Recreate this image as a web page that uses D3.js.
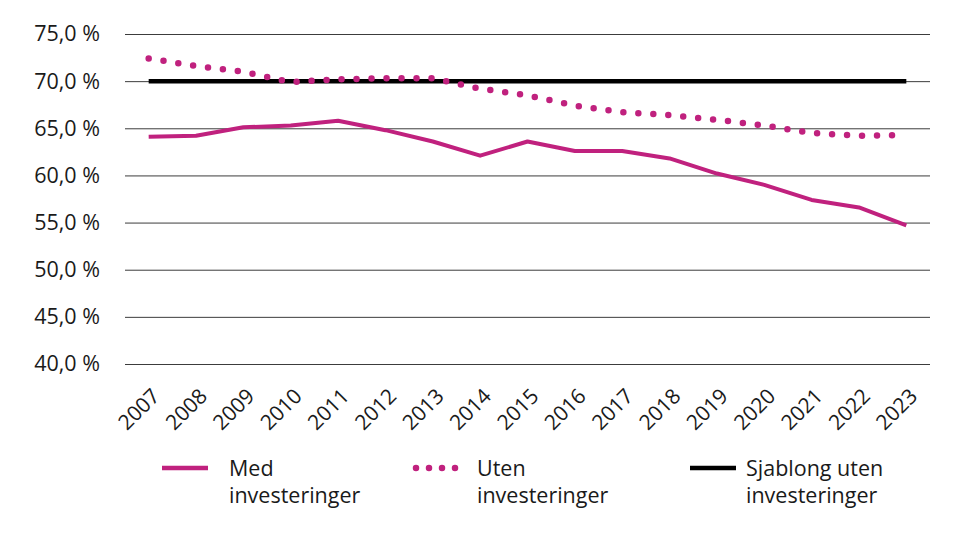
<!DOCTYPE html>
<html>
<head>
<meta charset="utf-8">
<style>
  body { margin: 0; background: #fff; }
  svg text { font-family: "Open Sans", sans-serif; fill: #1a1a1a; }
</style>
</head>
<body>
<svg width="967" height="533"></svg>
<script src="https://cdn.jsdelivr.net/npm/d3@7"></script>
<script>
  var years = ["2007","2008","2009","2010","2011","2012","2013","2014","2015","2016","2017","2018","2019","2020","2021","2022","2023"];
  var medInv = [64.1, 64.2, 65.1, 65.3, 65.8, 64.8, 63.6, 62.1, 63.6, 62.6, 62.6, 61.8, 60.2, 59.0, 57.4, 56.6, 54.7];
  var utenInv = [72.4, 71.6, 71.0, 69.9, 70.2, 70.3, 70.3, 69.2, 68.5, 67.4, 66.7, 66.4, 65.9, 65.3, 64.5, 64.2, 64.3];
  var sjablong = [70, 70, 70, 70, 70, 70, 70, 70, 70, 70, 70, 70, 70, 70, 70, 70, 70];
  var yTicks = [40, 45, 50, 55, 60, 65, 70, 75];
  var seriesNames = ["Med\ninvesteringer", "Uten\ninvesteringer", "Sjablong uten\ninvesteringer"];

  var magenta = "#c0217e";
  var svg = d3.select("svg");

  var x = d3.scaleBand().domain(years).range([125, 930]);
  var y = d3.scaleLinear().domain([40, 75]).range([364, 34]);
  var cx = function(d, i) { return x(years[i]) + x.bandwidth() / 2; };

  // gridlines + y labels
  var yAxis = d3.axisLeft(y).tickValues(yTicks).tickSize(-805)
      .tickFormat(function(d) { return d3.format(".1f")(d).replace(".", ",") + " %"; });
  var gy = svg.append("g").attr("transform", "translate(125,0)").call(yAxis);
  gy.select(".domain").remove();
  gy.selectAll(".tick line").attr("stroke", "#3c3c3c").attr("stroke-width", 1);
  gy.selectAll(".tick text").attr("x", -25).attr("font-size", 21.5)
      .attr("font-family", "Open Sans, sans-serif").attr("fill", "#1a1a1a");

  // x labels
  var xAxis = d3.axisBottom(x).tickSize(0);
  var gx = svg.append("g").attr("transform", "translate(0,372)").call(xAxis);
  gx.select(".domain").remove();
  gx.selectAll(".tick text")
      .attr("font-size", 21).attr("font-family", "Open Sans, sans-serif").attr("fill", "#1a1a1a")
      .attr("text-anchor", "end").attr("dy", "0.7em").attr("y", 0)
      .attr("transform", "translate(2,15) rotate(-45)");

  var line = d3.line().x(cx).y(function(d) { return y(d); });

  svg.append("path").datum(sjablong).attr("d", line)
      .attr("fill", "none").attr("stroke", "#000").attr("stroke-width", 4.5);

  svg.append("path").datum(utenInv).attr("d", line)
      .attr("fill", "none").attr("stroke", magenta).attr("stroke-width", 6.5)
      .attr("stroke-linecap", "round").attr("stroke-dasharray", "0,15");

  svg.append("path").datum(medInv).attr("d", line)
      .attr("fill", "none").attr("stroke", magenta).attr("stroke-width", 4)
      .attr("stroke-linejoin", "round");

  // legend
  var legX = [162, 413, 690];
  var leg = svg.append("g").selectAll("g").data(seriesNames).enter().append("g")
      .attr("transform", function(d, i) { return "translate(" + legX[i] + ",468)"; });
  leg.append("line").attr("x1", function(d, i) { return i == 1 ? 3 : 0; }).attr("x2", 46)
      .attr("y1", 0).attr("y2", 0)
      .attr("stroke", function(d, i) { return i == 2 ? "#000" : magenta; })
      .attr("stroke-width", function(d, i) { return i == 1 ? 6.5 : 4.5; })
      .attr("stroke-linecap", function(d, i) { return i == 1 ? "round" : "butt"; })
      .attr("stroke-dasharray", function(d, i) { return i == 1 ? "0,13" : null; });
  leg.each(function(d, i) {
    var tx = i == 2 ? 56 : (i == 1 ? 64 : 67);
    var g = d3.select(this);
    d.split("\n").forEach(function(s, k) {
      g.append("text").attr("x", tx).attr("y", 8 + k * 27).attr("font-size", 21.5).text(s);
    });
  });
</script>
</body>
</html>
